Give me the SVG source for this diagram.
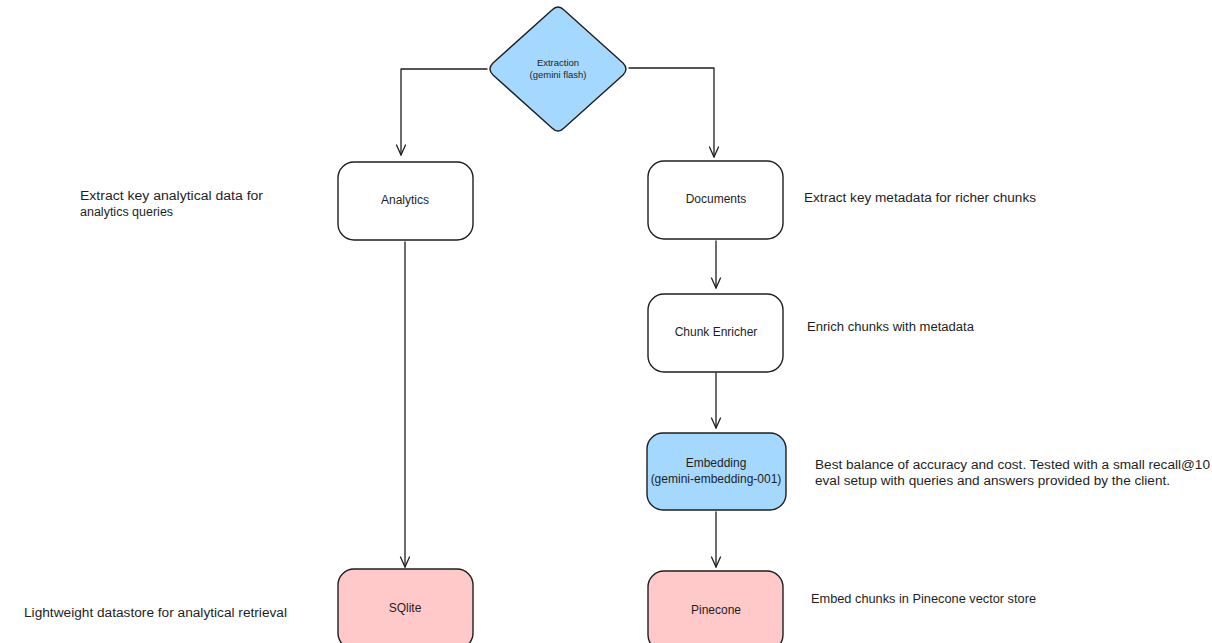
<svg xmlns="http://www.w3.org/2000/svg" width="1212" height="643" viewBox="0 0 1212 643">
<defs>
<marker id="arr" viewBox="0 0 12 12" refX="11" refY="6" markerWidth="12" markerHeight="12" markerUnits="userSpaceOnUse" orient="auto">
<path d="M1,1.5 L11,6 L1,10.5" fill="none" stroke="#1e1e1e" stroke-width="1.3" stroke-linecap="round" stroke-linejoin="round"/>
</marker>
<style>
.box{stroke:#1e1e1e;stroke-width:1.4;fill:#ffffff}
.blue{fill:#a5d8ff}
.red{fill:#ffc9c9}
.lbl{font-family:"Liberation Sans",Arial,sans-serif;font-size:12px;fill:#1e1e1e;text-anchor:middle}
.note{font-family:"Liberation Sans",Arial,sans-serif;font-size:12.5px;fill:#1e1e1e}
.con{fill:none;stroke:#1e1e1e;stroke-width:1.3;stroke-linecap:round;stroke-linejoin:round}
</style>
</defs>
<rect width="1212" height="643" fill="#ffffff"/>

<g id="connectors">
<path class="con" d="M487,69 L401,69 L401,155" marker-end="url(#arr)"/>
<path class="con" d="M629,68 L714,68 L714,157" marker-end="url(#arr)"/>
<path class="con" d="M405,242 L405,567" marker-end="url(#arr)"/>
<path class="con" d="M716,241 L716,288" marker-end="url(#arr)"/>
<path class="con" d="M716,373 L716,428" marker-end="url(#arr)"/>
<path class="con" d="M716,512 L716,567" marker-end="url(#arr)"/>
</g>

<g id="extraction">
<path class="box blue" d="M552,10 Q558,4 564,10 L623,63 Q629,69 623,75 L564,128 Q558,134 552,128 L493,75 Q487,69 493,63 Z"/>
<text class="lbl" x="558" y="66" font-size="9.5" style="font-size:9.5px">Extraction</text>
<text class="lbl" x="558" y="78" style="font-size:9.5px">(gemini flash)</text>
</g>

<g id="analytics">
<rect class="box" x="338" y="162" width="135" height="78" rx="16"/>
<text class="lbl" x="405" y="204">Analytics</text>
</g>

<g id="documents">
<rect class="box" x="648" y="161" width="135" height="78" rx="16"/>
<text class="lbl" x="716" y="203">Documents</text>
</g>

<g id="chunk-enricher">
<rect class="box" x="648" y="294" width="135" height="78" rx="16"/>
<text class="lbl" x="716" y="336">Chunk Enricher</text>
</g>

<g id="embedding">
<rect class="box blue" x="647" y="433" width="139" height="77" rx="16"/>
<text class="lbl" x="716" y="467">Embedding</text>
<text class="lbl" x="716" y="483">(gemini-embedding-001)</text>
</g>

<g id="sqlite">
<rect class="box red" x="338" y="569" width="135" height="80" rx="16"/>
<text class="lbl" x="405" y="612">SQlite</text>
</g>

<g id="pinecone">
<rect class="box red" x="648" y="571" width="135" height="80" rx="16"/>
<text class="lbl" x="716" y="614">Pinecone</text>
</g>

<g id="notes">
<text class="note" x="80" y="200" textLength="183" lengthAdjust="spacingAndGlyphs">Extract key analytical data for</text>
<text class="note" x="80" y="216">analytics queries</text>
<text class="note" x="804" y="202" textLength="232" lengthAdjust="spacingAndGlyphs">Extract key metadata for richer chunks</text>
<text class="note" x="807" y="331" textLength="167" lengthAdjust="spacingAndGlyphs">Enrich chunks with metadata</text>
<text class="note" x="815" y="469" textLength="395" lengthAdjust="spacingAndGlyphs">Best balance of accuracy and cost. Tested with a small recall@10</text>
<text class="note" x="815" y="485" textLength="355" lengthAdjust="spacingAndGlyphs">eval setup with queries and answers provided by the client.</text>
<text class="note" x="24" y="617" textLength="263" lengthAdjust="spacingAndGlyphs">Lightweight datastore for analytical retrieval</text>
<text class="note" x="811" y="603" textLength="225" lengthAdjust="spacingAndGlyphs">Embed chunks in Pinecone vector store</text>
</g>
</svg>
